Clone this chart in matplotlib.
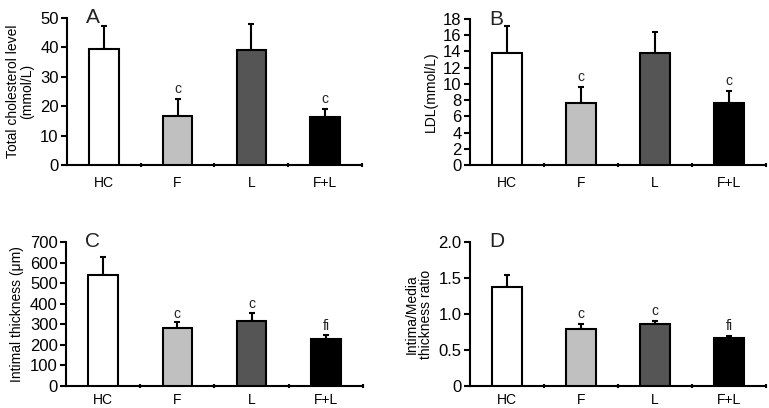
import matplotlib
matplotlib.use('Agg')
import matplotlib.pyplot as plt
import numpy as np

groups = ['HC', 'F', 'L', 'F+L']
bar_colors = ['white', '#c0c0c0', '#555555', 'black']

# panel values (mean, upper error bar length)
tc_mean = [39.6, 16.6, 39.0, 16.2]
tc_err = [7.6, 5.8, 9.0, 3.0]
tc_marks = ['', 'c', '', 'c']

ldl_mean = [13.85, 7.6, 13.85, 7.6]
ldl_err = [3.25, 2.0, 2.55, 1.55]
ldl_marks = ['', 'c', '', 'c']

int_mean = [540, 281, 317, 229]
int_err = [88, 28, 38, 20]
int_marks = ['', 'c', 'c', 'fi']

ratio_mean = [1.38, 0.79, 0.86, 0.67]
ratio_err = [0.16, 0.07, 0.04, 0.03]
ratio_marks = ['', 'c', 'c', 'fi']

plt.rcParams['font.family'] = ['Liberation Sans', 'DejaVu Sans']
plt.rcParams['text.color'] = '#222222'

fig = plt.figure(figsize=(7.69, 4.08), dpi=100)


def panel(rect, mean, err, marks, ylim, yticks, yticklabels, ylabel, letter, mark_pad, xpad):
    ax = fig.add_axes(rect)
    x = np.arange(len(groups)) + 0.5
    ax.bar(x, mean, width=0.4, color=bar_colors, edgecolor='black', linewidth=1.5, zorder=3)
    ax.errorbar(x, mean, yerr=[np.zeros(len(err)), err], fmt='none', ecolor='black',
                elinewidth=1.5, capsize=2.5, capthick=1.5, zorder=2)
    for xi, m, e, t in zip(x, mean, err, marks):
        if t:
            ax.text(xi, m + e + mark_pad, t, ha='center', va='bottom', fontsize=10)
    ax.set_xlim(0, 4)
    ax.set_ylim(*ylim)
    ax.set_yticks(yticks)
    ax.set_yticklabels(yticklabels, fontsize=12)
    ax.set_xticks(x)
    ax.set_xticklabels(groups, fontsize=10)
    ax.set_xticks([1, 2, 3, 4], minor=True)
    ax.tick_params(axis='x', which='major', length=0, pad=xpad)
    ax.tick_params(axis='x', which='minor', length=3, width=1.5, direction='inout')
    ax.tick_params(axis='y', length=4, width=1.5, pad=2)
    for s in ['top', 'right']:
        ax.spines[s].set_visible(False)
    for s in ['left', 'bottom']:
        ax.spines[s].set_linewidth(1.5)
    ax.set_ylabel(ylabel, fontsize=10, labelpad=4, linespacing=1.0)
    ax.text(0.065, 1.0, letter, transform=ax.transAxes, fontsize=15, ha='left', va='center')
    return ax


panel([0.0871, 0.5956, 0.3836, 0.3603], tc_mean, tc_err, tc_marks, (0, 50),
      [0, 10, 20, 30, 40, 50], ['0', '10', '20', '30', '40', '50'],
      'Total cholesterol level\n(mmol/L)', 'A', 1.0, 8)
panel([0.6112, 0.5956, 0.3850, 0.3578], ldl_mean, ldl_err, ldl_marks, (0, 18),
      list(range(0, 19, 2)), [str(v) for v in range(0, 19, 2)],
      'LDL(mmol/L)', 'B', 0.4, 8)
panel([0.0858, 0.0539, 0.3862, 0.3530], int_mean, int_err, int_marks, (0, 700),
      list(range(0, 701, 100)), [str(v) for v in range(0, 701, 100)],
      'Intimal thickness (\u03bcm)', 'C', 8, 5)
panel([0.6112, 0.0539, 0.3850, 0.3530], ratio_mean, ratio_err, ratio_marks, (0, 2.0),
      [0, 0.5, 1.0, 1.5, 2.0], ['0', '0.5', '1.0', '1.5', '2.0'],
      'Intima/Media\nthickness ratio', 'D', 0.04, 5)

fig.savefig('out.png', dpi=100)
